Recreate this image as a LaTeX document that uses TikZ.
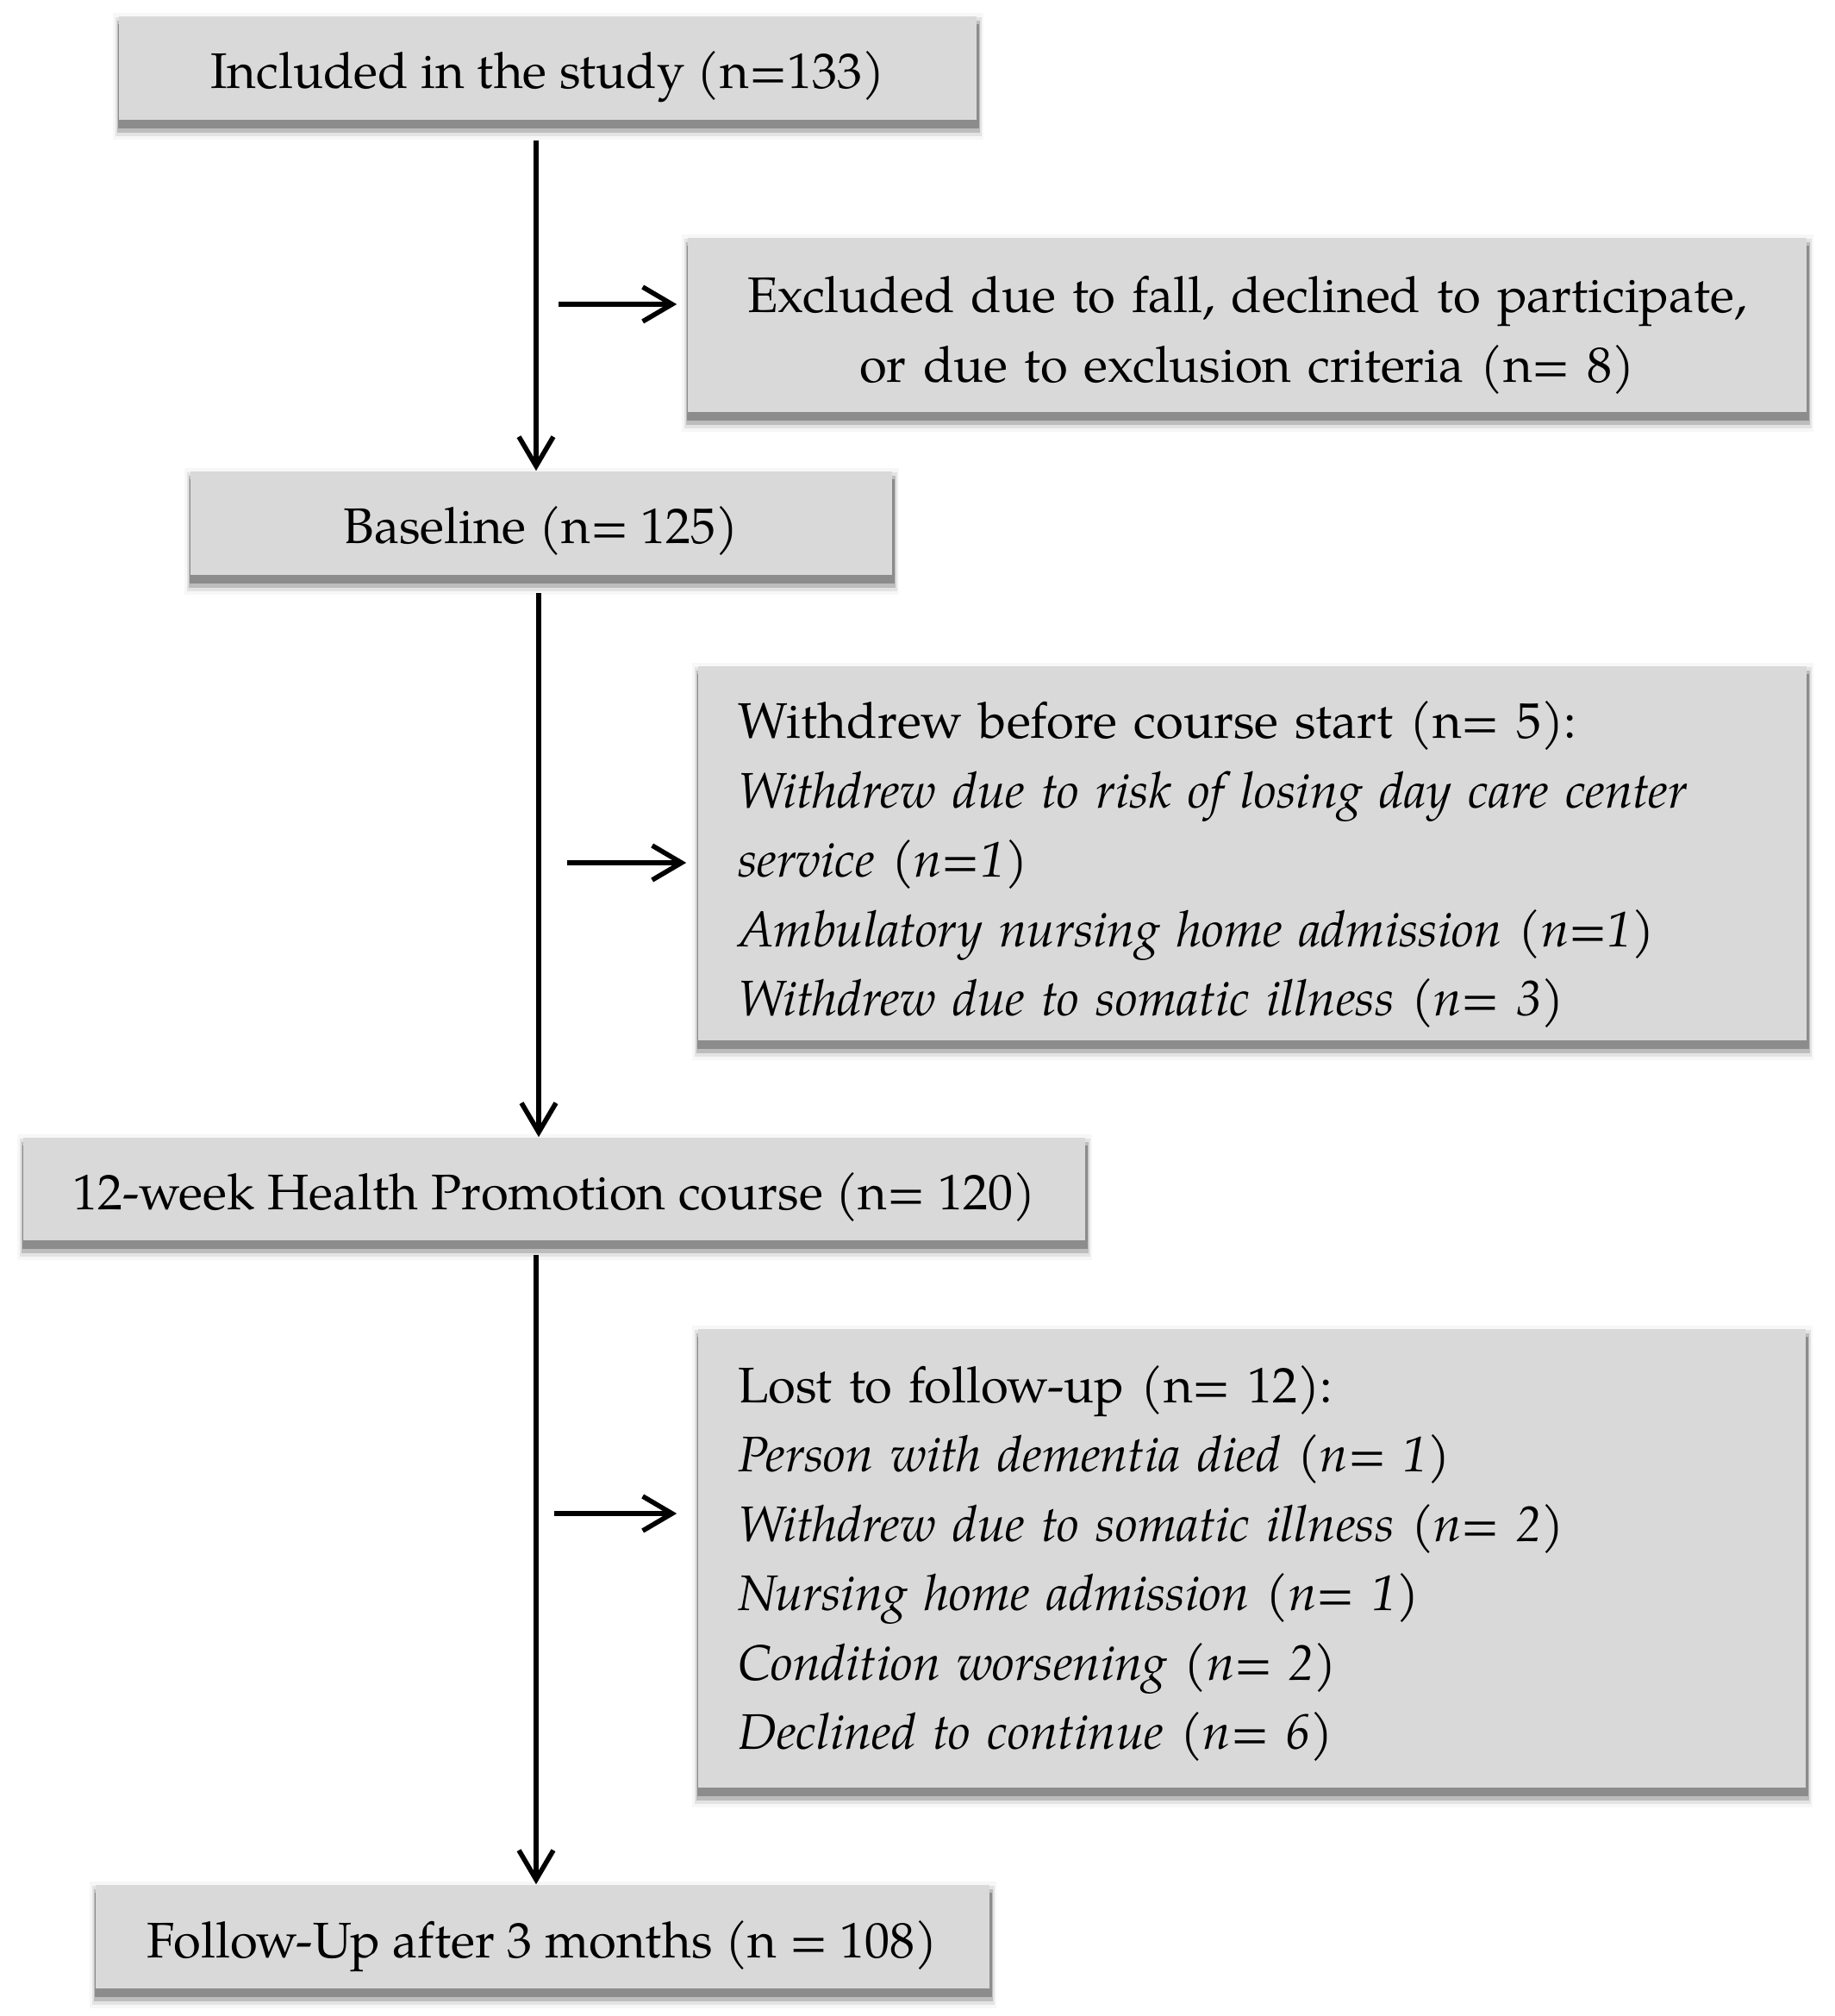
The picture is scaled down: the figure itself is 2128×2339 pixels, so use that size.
\documentclass[tikz,border=0pt]{standalone}
\usepackage{fontspec}
\setmainfont{TeX Gyre Pagella}
\usetikzlibrary{arrows.meta}
\pgfdeclarelayer{background}
\pgfsetlayers{background,main}
\definecolor{boxgray}{RGB}{217,217,217}
\newcommand\boxshade[1]{%
  \fill[black!3] ([xshift=-1.5bp,yshift=-5.5bp]#1.south west) rectangle ([xshift=1.8bp,yshift=0.8bp]#1.north east);
  \fill[black!11] ([xshift=-0.8bp,yshift=-4.6bp]#1.south west) rectangle ([xshift=1.4bp,yshift=-0.5bp]#1.north east);
  \fill[black!26] ([xshift=-0.3bp,yshift=-3.6bp]#1.south west) rectangle ([xshift=0.9bp,yshift=-1.5bp]#1.north east);
  \fill[black!45] ([yshift=-2.4bp]#1.south west) rectangle ([xshift=0.5bp,yshift=-2.5bp]#1.north east);
}
\tikzset{
  box/.style={fill=boxgray, inner sep=0pt, font=\fontsize{14.5bp}{20.1bp}\selectfont},
  single/.style={text height=16bp, text depth=4bp},
  arr/.style={line width=1.4bp, -{Straight Barb[length=8.5bp,width=10bp]}},
}
\begin{document}
\begin{tikzpicture}[x=0.25bp,y=-0.25bp]
\useasboundingbox (0,0) rectangle (2128,2339);

\node[box, single, minimum width=248.75bp, minimum height=30bp] (b1) at (635.5,79) {Included in the study (n=133)};
\node[box, minimum width=324.5bp, minimum height=50.5bp, text width=300bp, align=center, text height=14bp, text depth=21bp] (b2) at (1447,377) {Excluded due to fall, declined to participate,\\ or due to exclusion criteria (n= 8)};
\node[box, single, minimum width=203.5bp, minimum height=30bp] (b3) at (628,607) {Baseline (n= 125)};
\node[box, minimum width=321.5bp, minimum height=108.5bp, inner xsep=11.5bp, text width=298.5bp, align=left, text height=14bp, text depth=80.5bp] (b4) at (1453,990) {Withdrew before course start (n= 5):\\
\textit{Withdrew due to risk of losing day care center}\\
\textit{service (n=1)}\\
\textit{Ambulatory nursing home admission (n=1)}\\
\textit{Withdrew due to somatic illness (n= 3)}};
\node[box, single, minimum width=308bp, minimum height=29.75bp] (b5) at (643,1379.5) {12-week Health Promotion course (n= 120)};
\node[box, minimum width=321.25bp, minimum height=133bp, inner xsep=11.5bp, text width=298.25bp, align=left, text height=14bp, text depth=104.25bp] (b6) at (1452.5,1808) {Lost to follow-up (n= 12):\\
\textit{Person with dementia died (n= 1)}\\
\textit{Withdrew due to somatic illness (n= 2)}\\
\textit{Nursing home admission (n= 1)}\\
\textit{Condition worsening (n= 2)}\\
\textit{Declined to continue (n= 6)}};
\node[box, single, minimum width=259.25bp, minimum height=30bp] (b7) at (629.5,2247) {Follow-Up after 3 months (n = 108)};

\begin{pgfonlayer}{background}
  \fill[white] (0,0) rectangle (2128,2339);
  \boxshade{b1}\boxshade{b2}\boxshade{b3}\boxshade{b4}\boxshade{b5}\boxshade{b6}\boxshade{b7}
\end{pgfonlayer}

\coordinate (tr1) at (622,0);
\coordinate (tr2) at (625,0);
\coordinate (tr3) at (622,0);
\draw[arr, shorten <=5.75bp] (b1.south -| tr1) -- (b3.north -| tr1);
\draw[arr, shorten <=5bp] (b3.south -| tr2) -- (b5.north -| tr2);
\draw[arr, shorten <=4bp] (b5.south -| tr3) -- (b7.north -| tr3);

\coordinate (h1) at (648,353);
\coordinate (h2) at (658,1001);
\coordinate (h3) at (643,1756);
\draw[arr, shorten >=3bp] (h1) -- (h1 -| b2.west);
\draw[arr, shorten >=3.25bp] (h2) -- (h2 -| b4.west);
\draw[arr, shorten >=6bp] (h3) -- (h3 -| b6.west);
\end{tikzpicture}
\end{document}
